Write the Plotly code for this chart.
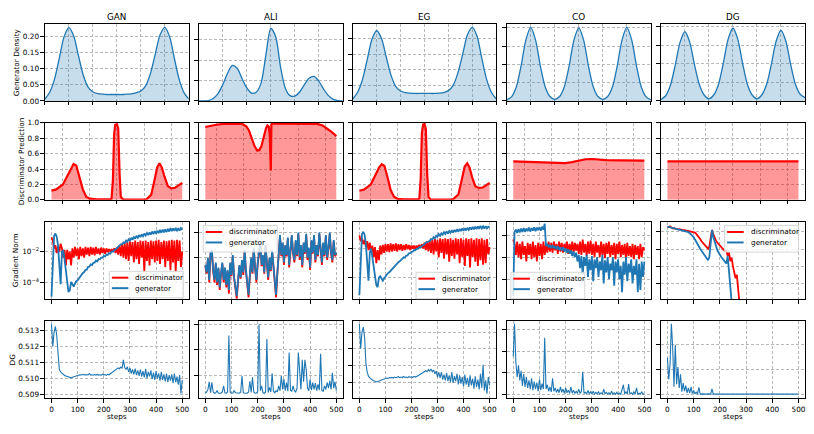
import plotly.graph_objects as go

W, H = 814, 434
MODELS = ["GAN", "ALI", "EG", "CO", "DG"]
BLUE = "#1f77b4"
RED = "#ff0000"

# ---------------- Row 1: generator density ----------------
DENS_X = [-3.0, -2.8, -2.6, -2.4, -2.2, -2.0, -1.8, -1.6, -1.4, -1.2, -1.0, -0.8, -0.6, -0.4, -0.2,
          0.0, 0.2, 0.4, 0.6, 0.8, 1.0, 1.2, 1.4, 1.6, 1.8, 2.0, 2.2, 2.4, 2.6, 2.8, 3.0]
GAN_DENS = [0.006, 0.027, 0.068, 0.133, 0.200, 0.228, 0.202, 0.140, 0.080, 0.043, 0.028, 0.023, 0.021, 0.020, 0.020,
            0.020, 0.020, 0.021, 0.022, 0.025, 0.031, 0.047, 0.085, 0.145, 0.205, 0.229, 0.200, 0.132, 0.067, 0.026, 0.006]
ALI_DENS = [0.000, 0.000, 0.001, 0.006, 0.018, 0.040, 0.068, 0.087, 0.080, 0.055, 0.032, 0.019, 0.022, 0.045, 0.115,
            0.178, 0.158, 0.085, 0.032, 0.013, 0.012, 0.022, 0.040, 0.056, 0.060, 0.048, 0.029, 0.013, 0.004, 0.001, 0.000]
EG_DENS = [0.007, 0.028, 0.068, 0.132, 0.198, 0.225, 0.200, 0.140, 0.082, 0.046, 0.032, 0.027, 0.025, 0.024, 0.024,
           0.024, 0.024, 0.024, 0.025, 0.027, 0.033, 0.050, 0.090, 0.150, 0.212, 0.236, 0.208, 0.137, 0.070, 0.028, 0.007]
CO_DENS = [0.003, 0.011, 0.038, 0.096, 0.167, 0.201, 0.167, 0.096, 0.039, 0.012, 0.004, 0.012, 0.039, 0.096, 0.167,
           0.200, 0.167, 0.096, 0.039, 0.012, 0.004, 0.012, 0.038, 0.096, 0.167, 0.201, 0.167, 0.096, 0.038, 0.011, 0.003]
DG_DENS = [0.004, 0.014, 0.043, 0.097, 0.158, 0.186, 0.158, 0.097, 0.044, 0.016, 0.006, 0.016, 0.045, 0.102, 0.166,
           0.196, 0.166, 0.102, 0.045, 0.016, 0.006, 0.016, 0.044, 0.099, 0.161, 0.190, 0.161, 0.099, 0.045, 0.018, 0.009]

# ---------------- Row 2: discriminator prediction ----------------
GAN_DX = [-4.8, -4.45, -3.96, -3.6, -3.35, -3.18, -2.98, -2.74, -2.5, -2.25, -2.0, -1.5, -1.0, -0.5, -0.39, -0.29,
          -0.2, -0.12, 0.0, 0.1, 0.2, 0.29, 0.44, 1.0, 1.5, 2.15, 2.52, 2.76, 2.96, 3.13, 3.3, 3.5, 3.74, 3.99,
          4.28, 4.55, 4.8]
GAN_DP = [0.119, 0.136, 0.2, 0.32, 0.42, 0.466, 0.445, 0.30, 0.136, 0.04, 0.015, 0.006, 0.004, 0.006, 0.015, 0.25,
          0.85, 0.975, 0.983, 0.93, 0.34, 0.04, 0.008, 0.003, 0.003, 0.005, 0.064, 0.25, 0.42, 0.475, 0.42, 0.30,
          0.18, 0.148, 0.157, 0.19, 0.22]
ALI_DX = [-4.8, -4.4, -4.0, -3.5, -3.0, -2.5, -2.1, -1.8, -1.6, -1.4, -1.2, -1.0, -0.85, -0.7, -0.5, -0.35, -0.25,
          -0.15, -0.08, -0.03, 0.0, 0.04, 0.1, 0.3, 1.0, 2.0, 3.0, 3.4, 3.8, 4.1, 4.4, 4.6, 4.8]
ALI_DP = [0.945, 0.962, 0.975, 0.985, 0.99, 0.99, 0.985, 0.955, 0.90, 0.80, 0.70, 0.64, 0.645, 0.69, 0.83, 0.93,
          0.965, 0.95, 0.85, 0.62, 0.38, 0.97, 0.99, 0.99, 0.99, 0.99, 0.99, 0.985, 0.965, 0.93, 0.89, 0.86, 0.826]
EG_DX = [-4.8, -4.45, -3.96, -3.6, -3.35, -3.15, -2.95, -2.72, -2.5, -2.25, -2.0, -1.5, -1.0, -0.5, -0.38, -0.28,
         -0.19, -0.1, 0.0, 0.1, 0.2, 0.3, 0.45, 1.0, 1.5, 2.1, 2.5, 2.75, 2.96, 3.15, 3.32, 3.52, 3.75, 4.02,
         4.3, 4.56, 4.8]
EG_DP = [0.118, 0.135, 0.198, 0.318, 0.418, 0.462, 0.44, 0.29, 0.13, 0.04, 0.014, 0.005, 0.004, 0.006, 0.016, 0.27,
         0.87, 0.978, 0.985, 0.92, 0.33, 0.035, 0.007, 0.003, 0.003, 0.006, 0.07, 0.26, 0.43, 0.475, 0.42, 0.29,
         0.175, 0.155, 0.16, 0.19, 0.22]
CO_DX = [-4.8, -4.0, -3.0, -2.0, -1.5, -1.0, -0.5, 0.0, 0.5, 1.0, 1.5, 2.0, 3.0, 4.0, 4.8]
CO_DP = [0.500, 0.497, 0.492, 0.486, 0.481, 0.476, 0.490, 0.512, 0.527, 0.530, 0.522, 0.516, 0.512, 0.510, 0.508]
DG_DX = [-4.8, -2.4, 0.0, 2.4, 4.8]
DG_DP = [0.500, 0.500, 0.500, 0.500, 0.500]

# ---------------- Rows 3 & 4: per-step curves (every 5 steps) ----------------
STEPS = list(range(0, 501, 5))

# log10 gradient norms
GAN_GEN = [-4.9, -2.2, -1.0, -0.85, -1.05, -1.6, -2.6, -4.1, -2.0, -1.95,
           -2.5, -3.1, -3.8, -4.6, -4.5, -3.95, -4.1, -4.25, -4.05, -3.9,
           -3.85, -3.72, -3.58, -3.52, -3.38, -3.32, -3.18, -3.17, -2.98, -2.97,
           -2.83, -2.87, -2.73, -2.72, -2.58, -2.64, -2.48, -2.5, -2.4, -2.4,
           -2.28, -2.32, -2.2, -2.22, -2.1, -2.14, -2.0, -2.02, -1.9, -1.87,
           -1.8, -1.68, -1.62, -1.55, -1.55, -1.42, -1.45, -1.3, -1.38, -1.22,
           -1.3, -1.12, -1.25, -1.05, -1.18, -1.0, -1.12, -0.95, -1.08, -0.9,
           -1.02, -0.85, -0.98, -0.82, -0.95, -0.78, -0.92, -0.72, -0.88, -0.7,
           -0.85, -0.66, -0.82, -0.62, -0.8, -0.6, -0.78, -0.58, -0.75, -0.55,
           -0.72, -0.5, -0.7, -0.52, -0.68, -0.48, -0.7, -0.5, -0.66, -0.5,
           -0.62]
GAN_DIS = [-1.1, -1.3, -1.8, -1.6, -2.1, -1.7, -2.0, -1.5, -1.8, -2.4,
           -1.9, -2.9, -1.9, -2.5, -2.0, -2.9, -1.8, -2.4, -1.7, -2.3,
           -1.8, -2.5, -1.7, -2.3, -1.8, -2.4, -1.7, -2.2, -1.75, -2.3,
           -1.7, -2.2, -1.75, -2.25, -1.7, -2.15, -1.8, -2.2, -1.75, -2.1,
           -1.8, -2.15, -1.8, -2.05, -1.85, -2.0, -1.85, -2.0, -1.8, -2.1,
           -1.75, -2.2, -1.6, -2.3, -1.5, -2.4, -1.45, -2.5, -1.4, -2.6,
           -1.35, -2.3, -1.4, -2.7, -1.3, -2.5, -1.4, -2.8, -1.3, -2.4,
           -1.35, -3.3, -1.3, -2.6, -1.4, -2.9, -1.3, -2.5, -1.35, -2.7,
           -1.3, -2.6, -1.25, -2.8, -1.4, -2.5, -1.3, -3.0, -1.35, -2.6,
           -1.3, -3.2, -1.25, -2.7, -1.3, -3.3, -1.25, -2.6, -1.3, -3.0,
           -2.0]
ALI_GEN = [-2.3, -2.6, -2.0, -2.9, -1.8, -1.7, -2.5, -2.9, -2.2, -3.0,
           -2.4, -3.2, -2.6, -2.2, -2.9, -2.4, -3.1, -2.5, -3.3, -2.2,
           -2.7, -1.9, -2.8, -3.1, -3.55, -2.9, -2.3, -2.8, -2.1, -2.6,
           -1.7, -2.5, -3.0, -3.5, -2.7, -2.0, -2.6, -1.6, -2.4, -2.9,
           -2.2, -1.8, -1.4, -2.3, -1.9, -2.6, -1.5, -2.2, -2.8, -2.0,
           -2.5, -1.7, -2.4, -2.9, -3.5, -2.6, -1.6, -1.1, -1.9, -1.4,
           -2.2, -1.5, -1.9, -1.2, -2.3, -1.6, -1.1, -1.8, -2.1, -1.3,
           -1.9, -1.0, -2.0, -1.5, -2.3, -1.4, -1.8, -1.05, -2.0, -1.6,
           -2.4, -1.3, -1.8, -1.1, -2.1, -1.5, -1.9, -1.0, -1.7, -2.2,
           -1.4, -1.9, -1.1, -2.0, -1.6, -1.0, -1.8, -2.1, -1.3, -1.9,
           -1.8]
ALI_DIS = [-2.35, -2.65, -2.05, -3.0, -1.85, -1.75, -2.55, -3.0, -2.25, -3.1,
           -2.45, -3.3, -2.65, -2.25, -3.0, -2.45, -3.2, -2.55, -3.45, -2.25,
           -2.75, -1.95, -2.85, -3.2, -3.65, -2.95, -2.35, -2.85, -2.15, -2.7,
           -1.75, -2.55, -3.1, -3.6, -2.75, -2.05, -2.65, -1.65, -2.45, -3.0,
           -2.25, -1.85, -1.45, -2.35, -1.95, -2.65, -1.55, -2.25, -2.9, -2.05,
           -2.55, -1.75, -2.45, -3.0, -3.6, -2.65, -1.65, -1.15, -1.95, -1.45,
           -2.3, -1.55, -1.95, -1.25, -2.4, -1.65, -1.15, -1.85, -2.2, -1.35,
           -1.95, -1.05, -2.1, -1.55, -2.4, -1.45, -1.85, -1.1, -2.1, -1.65,
           -2.5, -1.35, -1.85, -1.15, -2.2, -1.55, -1.95, -1.05, -1.75, -2.3,
           -1.45, -1.95, -1.15, -2.1, -1.65, -1.05, -1.85, -2.2, -1.35, -1.95,
           -1.85]
EG_GEN = [-5.2, -2.3, -1.0, -0.85, -1.05, -1.7, -2.8, -4.2, -2.3, -2.0,
          -2.6, -3.3, -3.9, -4.5, -4.65, -4.0, -3.9, -4.1, -4.2, -4.05,
          -3.9, -3.82, -3.68, -3.62, -3.52, -3.43, -3.28, -3.23, -3.08, -3.03,
          -2.93, -2.88, -2.78, -2.73, -2.6, -2.63, -2.48, -2.47, -2.33, -2.32,
          -2.23, -2.22, -2.1, -2.12, -2.01, -2.02, -1.9, -1.9, -1.83, -1.82,
          -1.72, -1.6, -1.55, -1.5, -1.48, -1.35, -1.38, -1.22, -1.3, -1.12,
          -1.2, -1.0, -1.12, -0.95, -1.05, -0.88, -1.0, -0.82, -0.98, -0.8,
          -0.92, -0.75, -0.9, -0.72, -0.86, -0.68, -0.85, -0.66, -0.8, -0.62,
          -0.78, -0.6, -0.76, -0.58, -0.72, -0.55, -0.7, -0.52, -0.68, -0.5,
          -0.66, -0.48, -0.65, -0.45, -0.62, -0.48, -0.64, -0.46, -0.62, -0.5,
          -0.56]
EG_DIS = [-1.1, -1.5, -1.3, -1.7, -1.4, -1.9, -1.5, -2.1, -1.6, -2.3,
          -1.8, -2.6, -1.9, -3.0, -2.1, -2.8, -1.8, -2.4, -1.75, -2.3,
          -1.7, -2.2, -1.7, -2.25, -1.65, -2.2, -1.7, -2.15, -1.65, -2.2,
          -1.7, -2.1, -1.7, -2.15, -1.75, -2.1, -1.7, -2.05, -1.75, -2.1,
          -1.8, -2.0, -1.8, -2.05, -1.8, -1.95, -1.75, -1.95, -1.7, -2.0,
          -1.6, -2.1, -1.5, -2.2, -1.45, -2.3, -1.4, -2.4, -1.35, -2.2,
          -1.4, -2.6, -1.3, -2.3, -1.35, -2.7, -1.3, -2.4, -1.35, -2.9,
          -1.3, -2.5, -1.4, -2.7, -1.3, -2.4, -1.35, -3.0, -1.3, -2.6,
          -1.4, -3.2, -1.3, -2.5, -1.35, -3.3, -1.3, -2.6, -1.4, -2.9,
          -1.3, -3.2, -1.35, -2.8, -1.3, -3.1, -1.4, -3.0, -1.35, -2.4,
          -1.9]
CO_GEN = [-3.76, -0.85, -0.75, -0.9, -0.72, -0.88, -0.7, -0.86, -0.68, -0.85,
          -0.7, -0.82, -0.66, -0.84, -0.68, -0.8, -0.65, -0.82, -0.66, -0.78,
          -0.64, -0.8, -0.62, -0.75, -0.48, -1.5, -1.4, -1.55, -1.45, -1.6,
          -1.45, -1.6, -1.5, -1.65, -1.5, -1.68, -1.55, -1.7, -1.55, -1.75,
          -1.6, -1.8, -1.65, -1.85, -1.7, -1.95, -1.75, -2.0, -1.8, -2.2,
          -1.9, -2.5, -1.95, -2.8, -2.0, -2.4, -1.9, -2.9, -2.1, -2.6,
          -1.95, -3.1, -2.1, -2.5, -2.0, -2.9, -2.2, -2.6, -1.9, -3.2,
          -2.15, -2.7, -2.0, -3.0, -2.3, -2.6, -2.0, -3.3, -2.2, -2.7,
          -2.1, -3.0, -2.4, -3.6, -2.2, -2.8, -2.0, -3.1, -2.3, -2.7,
          -2.1, -3.2, -2.4, -2.8, -2.1, -3.6, -2.3, -3.5, -2.2, -2.9,
          -2.2]
CO_DIS = [-1.2, -1.4, -1.9, -1.3, -2.0, -1.4, -2.1, -1.3, -1.9, -1.5,
          -2.2, -1.35, -1.9, -1.4, -2.1, -1.3, -2.0, -1.45, -2.2, -1.35,
          -1.95, -1.4, -2.1, -1.3, -1.9, -1.4, -1.8, -1.3, -1.75, -1.35,
          -1.8, -1.3, -1.7, -1.4, -1.85, -1.3, -1.75, -1.35, -1.8, -1.4,
          -1.7, -1.3, -1.85, -1.4, -1.75, -1.3, -1.8, -1.35, -1.7, -1.4,
          -1.85, -1.3, -1.9, -1.2, -1.8, -1.4, -1.95, -1.3, -1.85, -1.25,
          -1.9, -1.4, -2.0, -1.3, -1.8, -1.45, -2.0, -1.3, -1.9, -1.4,
          -2.05, -1.35, -1.85, -1.3, -2.0, -1.45, -1.9, -1.35, -2.1, -1.4,
          -1.85, -1.3, -2.0, -1.45, -1.9, -1.4, -2.1, -1.35, -1.95, -1.5,
          -2.0, -1.4, -2.1, -1.45, -1.9, -1.5, -2.1, -1.4, -2.0, -1.55,
          -1.7]
DG_GEN = [-0.7, -0.72, -0.74, -0.77, -0.8, -0.82, -0.84, -0.85, -0.88, -0.9,
          -0.91, -0.92, -0.94, -0.95, -0.97, -0.99, -1.02, -1.08, -1.15, -1.22,
          -1.3, -1.45, -1.6, -1.75, -1.87, -1.98, -2.1, -2.2, -2.3, -2.4,
          -2.55, -2.65, -2.45, -1.6, -0.9, -1.3, -1.6, -1.85, -2.05, -2.2,
          -2.35, -2.45, -2.55, -2.65, -2.75, -2.85, -2.4, -3.3, -3.8, -4.6,
          -6.0]
DG_DIS = [-0.75, -0.72, -0.68, -0.74, -0.8, -0.78, -0.83, -0.82, -0.86, -0.85,
          -0.88, -0.87, -0.9, -0.9, -0.92, -0.93, -0.95, -0.94, -0.97, -0.98,
          -1.0, -1.05, -1.12, -1.2, -1.3, -1.42, -1.55, -1.65, -1.75, -1.82,
          -1.9, -1.98, -1.85, -1.2, -0.88, -1.15, -1.35, -1.5, -1.62, -1.72,
          -1.82, -1.9, -1.98, -2.05, -2.12, -2.1, -2.4, -2.2, -2.7, -2.5,
          -3.0, -3.3, -3.7, -3.5, -4.2, -4.6, -6.0]

# DG metric
GAN_DGM = [0.51340, 0.51200, 0.51290, 0.51325, 0.51270, 0.51140, 0.51055, 0.51040, 0.51030, 0.51025,
           0.51018, 0.51014, 0.51010, 0.51006, 0.51004, 0.51003, 0.51006, 0.51010, 0.51012, 0.51016,
           0.51018, 0.51020, 0.51022, 0.51020, 0.51022, 0.51024, 0.51020, 0.51023, 0.51021, 0.51030,
           0.51020, 0.51022, 0.51019, 0.51023, 0.51020, 0.51024, 0.51020, 0.51022, 0.51019, 0.51025,
           0.51020, 0.51023, 0.51018, 0.51025, 0.51022, 0.51028, 0.51032, 0.51038, 0.51045, 0.51050,
           0.51058, 0.51065, 0.51060, 0.51070, 0.51062, 0.51115, 0.51068, 0.51055, 0.51072, 0.51040,
           0.51065, 0.51030, 0.51055, 0.51025, 0.51060, 0.51020, 0.51050, 0.51015, 0.51055, 0.51010,
           0.51045, 0.51005, 0.51060, 0.51000, 0.51040, 0.51012, 0.51050, 0.50995, 0.51035, 0.50990,
           0.51045, 0.51000, 0.51030, 0.50985, 0.51040, 0.50990, 0.51025, 0.50980, 0.51030, 0.50975,
           0.51020, 0.50985, 0.51025, 0.50970, 0.51030, 0.50975, 0.51010, 0.50960, 0.51020, 0.50905,
           0.50990]
ALI_DGM = [0.50930, 0.50935, 0.50945, 0.50975, 0.50932, 0.50973, 0.50935, 0.50930, 0.50932, 0.50941,
           0.50930, 0.50931, 0.50930, 0.50935, 0.50959, 0.50931, 0.50930, 0.50935, 0.51156, 0.50933,
           0.50930, 0.50931, 0.50941, 0.50932, 0.50930, 0.50931, 0.50930, 0.50934, 0.50997, 0.50932,
           0.50930, 0.50931, 0.50930, 0.50935, 0.50977, 0.50933, 0.50992, 0.50935, 0.50930, 0.50931,
           0.50936, 0.51200, 0.50940, 0.50959, 0.50932, 0.50930, 0.50935, 0.51142, 0.50933, 0.50953,
           0.50935, 0.51008, 0.50938, 0.50932, 0.50940, 0.50935, 0.50959, 0.50940, 0.50997, 0.50945,
           0.50985, 0.50940, 0.50972, 0.50938, 0.51089, 0.50942, 0.50937, 0.50959, 0.50940, 0.50935,
           0.50950, 0.51089, 0.50990, 0.50945, 0.51061, 0.50975, 0.51061, 0.51023, 0.50950, 0.50940,
           0.50984, 0.50942, 0.50972, 0.50945, 0.50970, 0.50940, 0.50965, 0.50942, 0.51084, 0.50940,
           0.50938, 0.50959, 0.50945, 0.50972, 0.50950, 0.50978, 0.50945, 0.51010, 0.50950, 0.50975,
           0.50940]
EG_DGM = [0.51349, 0.51200, 0.51300, 0.51330, 0.51270, 0.51114, 0.51060, 0.51035, 0.51025, 0.51015,
          0.51012, 0.51008, 0.51004, 0.51002, 0.51002, 0.51004, 0.51008, 0.51012, 0.51015, 0.51018,
          0.51020, 0.51024, 0.51022, 0.51027, 0.51025, 0.51028, 0.51024, 0.51030, 0.51026, 0.51028,
          0.51032, 0.51026, 0.51030, 0.51027, 0.51033, 0.51028, 0.51030, 0.51026, 0.51032, 0.51029,
          0.51031, 0.51027, 0.51034, 0.51030, 0.51036, 0.51038, 0.51042, 0.51048, 0.51052, 0.51058,
          0.51064, 0.51068, 0.51062, 0.51075, 0.51066, 0.51078, 0.51062, 0.51072, 0.51050, 0.51065,
          0.51030, 0.51058, 0.51025, 0.51060, 0.51015, 0.51045, 0.51010, 0.51055, 0.51005, 0.51040,
          0.51000, 0.51060, 0.50995, 0.51035, 0.51005, 0.51050, 0.50985, 0.51040, 0.50990, 0.51030,
          0.50975, 0.51045, 0.50985, 0.51025, 0.50970, 0.51040, 0.50980, 0.51020, 0.50960, 0.51035,
          0.50970, 0.51015, 0.50955, 0.51050, 0.50965, 0.51104, 0.50950, 0.51010, 0.50930, 0.51030,
          0.50980]
CO_DGM = [0.51076, 0.51227, 0.51050, 0.50980, 0.51035, 0.50965, 0.51010, 0.50940, 0.50995, 0.50935,
          0.50980, 0.50930, 0.50965, 0.50925, 0.50975, 0.50920, 0.50960, 0.50925, 0.50955, 0.50915,
          0.50970, 0.50920, 0.50950, 0.50925, 0.51162, 0.50925, 0.50945, 0.50915, 0.50935, 0.50912,
          0.50975, 0.50915, 0.50930, 0.50910, 0.50925, 0.50908, 0.50935, 0.50910, 0.50925, 0.50905,
          0.50930, 0.50908, 0.50920, 0.50905, 0.50935, 0.50906, 0.50920, 0.50904, 0.50915, 0.50905,
          0.50925, 0.50904, 0.50915, 0.51005, 0.50905, 0.50910, 0.50903, 0.50918, 0.50903, 0.50912,
          0.50902, 0.50915, 0.50902, 0.50910, 0.50903, 0.50912, 0.50902, 0.50908, 0.50902, 0.50925,
          0.50903, 0.50910, 0.50902, 0.50908, 0.50901, 0.50915, 0.50902, 0.50908, 0.50901, 0.50910,
          0.50902, 0.50906, 0.50901, 0.50920, 0.50945, 0.50903, 0.50912, 0.50902, 0.50948, 0.50903,
          0.50908, 0.50901, 0.50912, 0.50902, 0.50930, 0.50902, 0.50906, 0.50901, 0.50912, 0.50901,
          0.50902]
DG_DGM = [0.51147, 0.51060, 0.51120, 0.51285, 0.51190, 0.51030, 0.51200, 0.51040, 0.51110, 0.51025,
          0.51080, 0.51010, 0.51045, 0.51012, 0.51035, 0.51005, 0.51025, 0.51004, 0.51030, 0.51002,
          0.51015, 0.51001, 0.51008, 0.51001, 0.51028, 0.51000, 0.51001, 0.51000, 0.51002, 0.51000,
          0.51000, 0.51001, 0.51000, 0.51000, 0.51021, 0.51000, 0.51000, 0.51000, 0.51000, 0.51000,
          0.51000, 0.51000, 0.51000, 0.51000, 0.51000, 0.51000, 0.51000, 0.51000, 0.51000, 0.51000,
          0.51000, 0.51000, 0.51000, 0.51000, 0.51000, 0.51000, 0.51000, 0.51000, 0.51000, 0.51000,
          0.51000, 0.51000, 0.51000, 0.51000, 0.51000, 0.51000, 0.51000, 0.51000, 0.51000, 0.51000,
          0.51000, 0.51000, 0.51000, 0.51000, 0.51000, 0.51000, 0.51000, 0.51000, 0.51000, 0.51000,
          0.51000, 0.51000, 0.51000, 0.51000, 0.51000, 0.51000, 0.51000, 0.51000, 0.51000, 0.51000,
          0.51000, 0.51000, 0.51000, 0.51000, 0.51000, 0.51000, 0.51000, 0.51000, 0.51000, 0.51000,
          0.51000]

DENS = [GAN_DENS, ALI_DENS, EG_DENS, CO_DENS, DG_DENS]
DPX = [GAN_DX, ALI_DX, EG_DX, CO_DX, DG_DX]
DPY = [GAN_DP, ALI_DP, EG_DP, CO_DP, DG_DP]
GEN = [GAN_GEN, ALI_GEN, EG_GEN, CO_GEN, DG_GEN]
DIS = [GAN_DIS, ALI_DIS, EG_DIS, CO_DIS, DG_DIS]
DGM = [GAN_DGM, ALI_DGM, EG_DGM, CO_DGM, DG_DGM]

# axis settings (ranges / ticks) per panel
R1_RANGE = [[0, 0.2406], [0, 0.1896], [0, 0.248], [0, 0.2116], [0, 0.2079]]
R1_TICKS = [[0, 0.05, 0.10, 0.15, 0.20], [0, 0.05, 0.10, 0.15], [0, 0.05, 0.10, 0.15, 0.20],
            [0, 0.05, 0.10, 0.15, 0.20], [0, 0.05, 0.10, 0.15, 0.20]]
R3_RANGE = [[-5.05, -0.09], [-3.67, -0.56], [-5.46, -0.16], [-3.91, -0.39], [-4.91, -0.41]]
R3_TICKS = [[1e-4, 1e-2], [1e-3, 1e-2, 1e-1], [1e-4, 1e-2], [1e-3, 1e-2, 1e-1], [1e-4, 1e-3, 1e-2, 1e-1]]
R3_LABELS = ["10<sup>\u22124</sup>", "10<sup>\u22122</sup>"]
R4_RANGE = [[0.50874, 0.51362], [0.50910, 0.51214], [0.50902, 0.51369], [0.50882, 0.51242], [0.50983, 0.51298]]
R4_TICKS = [[0.509, 0.510, 0.511, 0.512, 0.513], [0.510, 0.511, 0.512], [0.510, 0.511, 0.512, 0.513],
            [0.509, 0.510, 0.511, 0.512], [0.510, 0.511, 0.512]]
STEP_TICKS = [0, 100, 200, 300, 400, 500]
LEGEND_POS = [(109.5, 273), (203.5, 226.3), (416.5, 274), (511.5, 274), (725.5, 226.3)]

COL_PX = [(45, 189), (199, 343.3), (353.3, 496.7), (507.3, 651.7), (661.7, 806)]
ROW_PX = [(20, 99), (121.3, 200), (222.3, 301.3), (323.3, 402.7)]

FONT = "DejaVu Sans"
FS = 7.3
INK = "#000000"


def px(v):
    return v / W


def py(v):
    return 1 - v / H


def name(letter, k):
    return letter if k == 1 else f"{letter}{k}"


fig = go.Figure()
layout = dict(width=W, height=H, margin=dict(l=0, r=0, t=0, b=0), paper_bgcolor="white",
              plot_bgcolor="white", showlegend=False, font=dict(family=FONT, size=FS, color=INK))
shapes = []
annotations = []

base_axis = dict(showline=True, mirror=True, linecolor="#000000", linewidth=0.9, ticks="outside",
                 ticklen=3.5, tickwidth=0.8, tickcolor="#000000", showgrid=True, gridcolor="#b8b8b8",
                 gridwidth=0.8, griddash="3px,2px", zeroline=False,
                 tickfont=dict(family=FONT, size=FS, color=INK))

for r in range(4):
    for c in range(5):
        k = r * 5 + c + 1
        xa = dict(base_axis)
        ya = dict(base_axis)
        x0, x1 = COL_PX[c]
        y0, y1 = ROW_PX[r]
        xa.update(domain=[px(x0), px(x1)], anchor=name("y", k))
        ya.update(domain=[py(y1), py(y0)], anchor=name("x", k))
        xref, yref = name("x", k), name("y", k)
        if r == 0:
            xa.update(range=[-3, 3], tickvals=[-3, -2, -1, 0, 1, 2, 3], showticklabels=False)
            ya.update(range=R1_RANGE[c], tickvals=R1_TICKS[c], tickformat=".2f", showticklabels=(c == 0))
            fig.add_trace(go.Scatter(x=DENS_X, y=DENS[c], mode="lines", xaxis=xref, yaxis=yref,
                                     line=dict(color=BLUE, width=1.3, shape="spline", smoothing=0.8),
                                     fill="tozeroy", fillcolor="rgba(31,119,180,0.25)"))
        elif r == 1:
            xa.update(range=[-5.28, 5.28], tickvals=[-4, -2, 0, 2, 4], showticklabels=False)
            ya.update(range=[0, 1], tickvals=[0, 0.2, 0.4, 0.6, 0.8, 1.0], tickformat=".1f",
                      showticklabels=(c == 0))
            fig.add_trace(go.Scatter(x=DPX[c], y=DPY[c], mode="lines", xaxis=xref, yaxis=yref,
                                     line=dict(color=RED, width=2.2), fill="tozeroy",
                                     fillcolor="rgba(255,0,0,0.4)"))
        elif r == 2:
            xa.update(range=[-25, 525], tickvals=STEP_TICKS, showticklabels=False)
            ya.update(type="log", range=R3_RANGE[c], tickvals=R3_TICKS[c], showticklabels=(c == 0))
            if c == 0:
                ya.update(ticktext=R3_LABELS)
            dis = DIS[c]
            gen = GEN[c]
            fig.add_trace(go.Scatter(x=STEPS[:len(dis)], y=[10 ** v for v in dis], mode="lines",
                                     xaxis=xref, yaxis=yref, line=dict(color=RED, width=1.8)))
            fig.add_trace(go.Scatter(x=STEPS[:len(gen)], y=[10 ** v for v in gen], mode="lines",
                                     xaxis=xref, yaxis=yref, line=dict(color=BLUE, width=1.8)))
        else:
            xa.update(range=[-25, 525], tickvals=STEP_TICKS, showticklabels=True)
            ya.update(range=R4_RANGE[c], tickvals=R4_TICKS[c], tickformat=".3f", showticklabels=(c == 0))
            fig.add_trace(go.Scatter(x=STEPS, y=DGM[c], mode="lines", xaxis=xref, yaxis=yref,
                                     line=dict(color=BLUE, width=1.1)))
        layout[name("xaxis", k)] = xa
        layout[name("yaxis", k)] = ya

# column titles and x labels
for c, m in enumerate(MODELS):
    cx = (COL_PX[c][0] + COL_PX[c][1]) / 2
    annotations.append(dict(text=m, x=px(cx), y=py(13), xref="paper", yref="paper", showarrow=False,
                            xanchor="center", yanchor="middle", font=dict(family=FONT, size=8.8, color=INK)))
    annotations.append(dict(text="steps", x=px(cx), y=py(421.5), xref="paper", yref="paper", showarrow=False,
                            xanchor="center", yanchor="middle", font=dict(family=FONT, size=FS, color=INK)))

# row labels
ROW_LABELS = [("Generator Density", 16), ("Discriminator Prediction", 21), ("Gradient Norm", 15), ("DG", 12)]
for r, (lab, xpos) in enumerate(ROW_LABELS):
    cy = (ROW_PX[r][0] + ROW_PX[r][1]) / 2
    annotations.append(dict(text=lab, x=px(xpos), y=py(cy), xref="paper", yref="paper", showarrow=False,
                            textangle=-90, xanchor="center", yanchor="middle",
                            font=dict(family=FONT, size=FS, color=INK)))

# legends (one per gradient-norm panel)
for (lx, ly) in LEGEND_POS:
    lw, lh = 74, 27
    shapes.append(dict(type="rect", xref="paper", yref="paper", x0=px(lx), x1=px(lx + lw), y0=py(ly + lh),
                       y1=py(ly), line=dict(color="#cccccc", width=0.8), fillcolor="rgba(255,255,255,0.8)",
                       layer="above"))
    for i, (lab, col) in enumerate([("discriminator", RED), ("generator", BLUE)]):
        yy = ly + 6.5 + i * 10.7
        shapes.append(dict(type="line", xref="paper", yref="paper", x0=px(lx + 2.5), x1=px(lx + 19),
                           y0=py(yy), y1=py(yy), line=dict(color=col, width=2), layer="above"))
        annotations.append(dict(text=lab, x=px(lx + 24), y=py(yy), xref="paper", yref="paper", showarrow=False,
                                xanchor="left", yanchor="middle", font=dict(family=FONT, size=FS, color=INK)))

layout["shapes"] = shapes
layout["annotations"] = annotations
fig.update_layout(**layout)
fig.write_html("out.html", config={"displayModeBar": False},
               post_script="document.body.style.margin='0';")
